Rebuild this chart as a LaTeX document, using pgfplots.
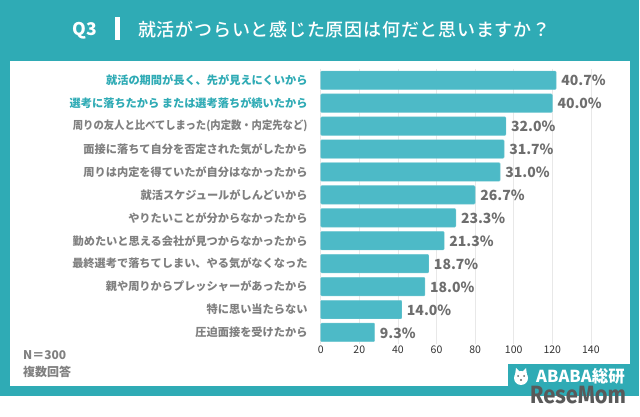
\documentclass[border=0pt]{standalone}
\usepackage{fontspec}
\usepackage{graphicx}
\setmainfont{Noto Sans CJK JP}
\newfontfamily\titlefont[LetterSpace=4.3]{Noto Sans CJK JP Medium}
\newfontfamily\logofont{Fira Sans}
\usepackage{pgfplots}
\pgfplotsset{compat=1.18}

\definecolor{tealbg}{HTML}{2FABB5}
\definecolor{barfill}{HTML}{4DBAC7}
\definecolor{labelgray}{HTML}{808080}
\definecolor{valgray}{HTML}{6E6E6E}
\definecolor{gridgray}{HTML}{E8E8E8}

\newcommand{\hl}[1]{\textcolor{tealbg}{#1}}

\begin{document}
\begin{tikzpicture}[x=1pt,y=1pt]
% frame, 1pt = 1px of the reference, y counted from the bottom
\path[use as bounding box,fill=white] (0,0) rectangle (640,417);
\fill[tealbg] (0,21) rectangle (639,417);
\fill[white] (10,31) rectangle (630,356);
\fill[tealbg] (508,31) rectangle (630,53);

\node[text=white,font=\bfseries\fontsize{17.5}{20}\selectfont,anchor=center] at (85,386.5) {Q3};
\fill[white] (115,377) rectangle (120,400);
\node[text=white,font=\titlefont\fontsize{18}{21}\selectfont,anchor=west,inner sep=0pt] at (138,387) {就活がつらいと感じた原因は何だと思いますか？};

\node[text=labelgray,font=\bfseries\fontsize{12}{14}\selectfont,anchor=west,inner sep=0pt] at (23,62) {N＝300};
\node[text=labelgray,font=\bfseries\fontsize{12}{14}\selectfont,anchor=west,inner sep=0pt] at (23,45) {複数回答};

\begin{axis}[
    at={(320.7pt,73.1pt)},
    anchor=south west,
    scale only axis,
    width=299.15pt,
    height=275.1pt,
    xmin=0, xmax=155,
    ymin=-0.5, ymax=11.5,
    y dir=reverse,
    axis line style={draw=none},
    major tick length=0pt,
    xtick={0,20,40,60,80,100,120,140},
    xmajorgrids=true,
    grid style={gridgray,line width=0.7pt},
    ytick={0,1,2,3,4,5,6,7,8,9,10,11},
    yticklabels={
        {\hl{就活の期間が長く、先が見えにくいから}},
        {\hl{選考に落ちたから または選考落ちが続いたから}},
        {\scalebox{0.922}[1]{周りの友人と比べてしまった(内定数・内定先など)}},
        {面接に落ちて自分を否定された気がしたから},
        {周りは内定を得ていたが自分はなかったから},
        {就活スケジュールがしんどいから},
        {やりたいことが分からなかったから},
        {勤めたいと思える会社が見つからなかったから},
        {最終選考で落ちてしまい、やる気がなくなった},
        {親や周りからプレッシャーがあったから},
        {特に思い当たらない},
        {圧迫面接を受けたから}
    },
    yticklabel style={text=labelgray,inner sep=0pt,xshift=-13pt,
        font=\bfseries\fontsize{11.2}{13}\selectfont},
    xticklabel style={text=black!80,inner sep=0pt,yshift=-2pt,
        font=\fontsize{10.5}{12}\selectfont},
    /pgf/number format/assume math mode=true,
    xbar,
    bar width=18.5pt,
    bar shift=0pt,
    nodes near coords,
    point meta=explicit symbolic,
    every node near coord/.append style={text=valgray,anchor=west,inner sep=0pt,xshift=5pt,yshift=-0.5pt,
        font=\bfseries\fontsize{14}{17}\selectfont},
]
\addplot[fill=barfill,draw=barfill!80!white,line width=0.4pt,rounded corners=1pt]
    coordinates {
    (122,0) [40.7\%]
    (120,1) [40.0\%]
    (96,2) [32.0\%]
    (95,3) [31.7\%]
    (93,4) [31.0\%]
    (80,5) [26.7\%]
    (70,6) [23.3\%]
    (64,7) [21.3\%]
    (56,8) [18.7\%]
    (54,9) [18.0\%]
    (42,10) [14.0\%]
    (28,11) [9.3\%]
    };
\end{axis}

% logo
\node[text=white,font=\bfseries\fontsize{16.5}{19}\selectfont,anchor=west,inner sep=0pt] at (536,41) {ABABA総研};
\fill[white] (521,39) circle (7);
\fill[white] (515,42) -- (516,49) -- (520,45) -- cycle;
\fill[white] (527,42) -- (526,49) -- (522,45) -- cycle;
\fill[black!60] (518,41) circle (1) (524,41) circle (1) (521,37) circle (1.2);
\node[text=black!65,font=\logofont\bfseries\fontsize{25}{28}\selectfont,anchor=west,inner sep=0pt] at (530,22) {\scalebox{0.87}[1]{ReseMom}};
\end{tikzpicture}
\end{document}
